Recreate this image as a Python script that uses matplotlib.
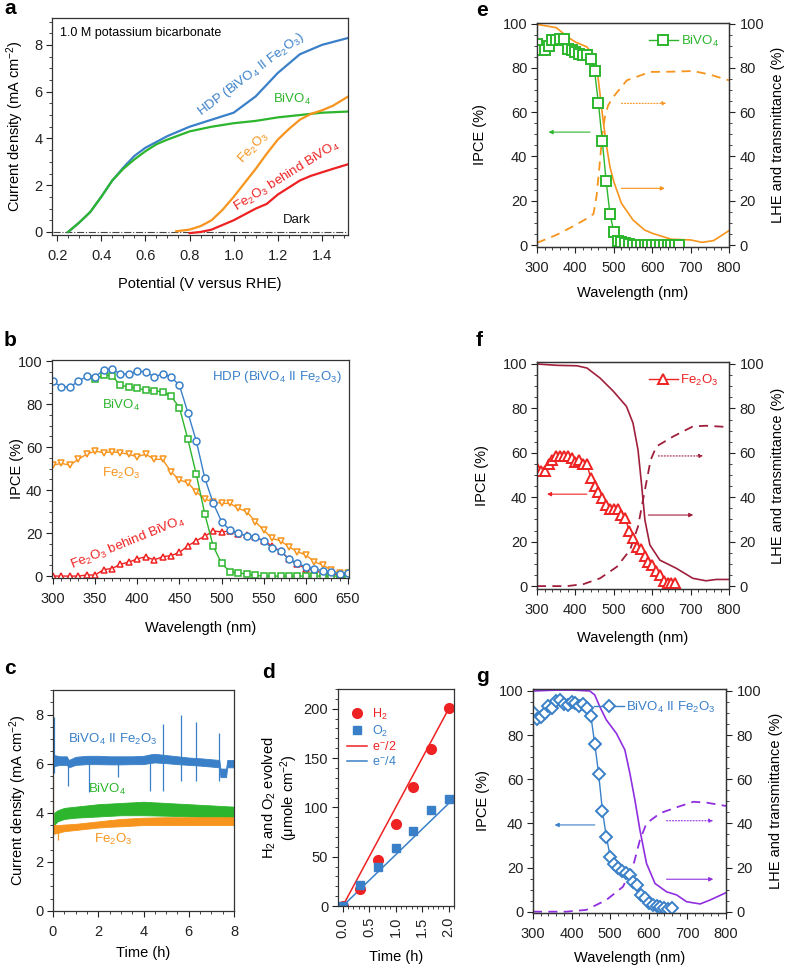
import matplotlib
matplotlib.use("Agg")
import matplotlib.pyplot as plt
from matplotlib.ticker import MultipleLocator

plt.rcParams['font.family'] = ['Liberation Sans', 'DejaVu Sans']
plt.rcParams['mathtext.default'] = 'regular'
plt.rcParams['axes.linewidth'] = 0.9

BLUE = '#3a80c8'
GREEN = '#2db52d'
ORANGE = '#f7941d'
RED = '#ee2222'
MAROON = '#a01f3c'
PURPLE = '#8f2fe0'

# ---------------- Panel a: J-V curves ----------------
a_v_bivo4 = [0.25, 0.30, 0.35, 0.40, 0.45, 0.50, 0.55, 0.60, 0.65, 0.70, 0.80, 0.90, 1.00, 1.10, 1.20, 1.30, 1.40, 1.52]
a_j_bivo4 = [0.0, 0.4, 0.85, 1.5, 2.2, 2.7, 3.1, 3.45, 3.75, 3.95, 4.3, 4.5, 4.65, 4.75, 4.9, 5.0, 5.1, 5.15]
a_v_hdp = [0.25, 0.30, 0.35, 0.40, 0.45, 0.50, 0.55, 0.60, 0.70, 0.80, 0.90, 1.00, 1.10, 1.20, 1.30, 1.40, 1.52]
a_j_hdp = [0.0, 0.4, 0.85, 1.5, 2.2, 2.75, 3.25, 3.6, 4.1, 4.5, 4.8, 5.1, 5.8, 6.8, 7.6, 8.0, 8.3]
a_v_fe = [0.74, 0.80, 0.85, 0.90, 0.95, 1.00, 1.05, 1.10, 1.15, 1.20, 1.25, 1.30, 1.35, 1.40, 1.45, 1.52]
a_j_fe = [0.03, 0.1, 0.25, 0.5, 0.95, 1.5, 2.1, 2.7, 3.35, 3.95, 4.4, 4.8, 5.05, 5.2, 5.4, 5.8]
a_v_feb = [0.80, 0.85, 0.90, 0.95, 1.00, 1.05, 1.10, 1.15, 1.20, 1.25, 1.30, 1.35, 1.40, 1.45, 1.52]
a_j_feb = [-0.05, 0.0, 0.1, 0.3, 0.5, 0.75, 1.0, 1.2, 1.6, 1.9, 2.2, 2.4, 2.55, 2.7, 2.9]
a_v_dark = [0.18, 1.52]
a_j_dark = [0.0, 0.0]

# ---------------- Panel b: IPCE ----------------
b_wl = list(range(300, 651, 10))
b_hdp = [90.5, 88, 88, 90.5, 93, 92.5, 96, 96.3, 94, 94, 95.3, 95, 92.7, 94, 92.7, 88.7, 76, 62.8, 45.7, 34,
         25.3, 21.4, 20, 18.6, 18, 16.4, 12.9, 11.8, 7.8, 5.9, 4.3, 3.3, 2.5, 2, 0.9, 1.2]
b_wl_bivo4 = list(range(350, 651, 10))
b_bivo4 = [91.6, 93.5, 93.2, 88.7, 88, 87.3, 86.5, 86.2, 85.7, 83.7, 78.4, 63.6, 47.3, 29.1, 14,
           5.9, 2, 1.5, 0.9, 0.3, 0, 0, 0, 0, 0, 0, 0, 0, 0, 0, 0]
b_fe = [51.6, 52.4, 51.6, 54.3, 56.7, 58.1, 57.4, 57.8, 57.4, 56.6, 55.5, 56.7, 54.3, 54.3, 48.5, 44.7, 43.4, 39.2, 35.7, 34.6,
        33.8, 33.8, 31.5, 29.9, 25.3, 21.4, 17.5, 16.4, 13.6, 11.3, 9.8, 6.7, 5.1, 2.8, 1.2, 1.5]
b_feb = [0, 0, 0, 0, 0.5, 0.5, 3, 3.5, 5.5, 6.5, 8, 9, 7.5, 9, 9.5, 11, 14, 16.5, 18.5, 21,
         20.5, 21, 19.5, 19, 18, 16.5, 14, 11.5, 8, 5.5, 3.5, 2.5, 1.5, 1, 0.5, 0.5]

# ---------------- Panel c: stability (noise band envelopes) ----------------
c_t_blue = [0.0, 0.05, 0.3, 0.6, 0.7, 1.0, 1.5, 2.0, 2.5, 3.0, 3.5, 4.0, 4.3, 4.5, 5.0, 5.5, 6.0, 6.5, 7.0, 7.35, 7.4, 7.65, 7.7, 8.0]
c_blue_lo = [6.3, 5.9, 5.95, 5.95, 5.85, 5.95, 5.98, 5.98, 5.97, 5.97, 5.98, 5.98, 6.03, 6.05, 6.02, 5.98, 5.95, 5.92, 5.88, 5.85, 5.45, 5.45, 5.85, 5.85]
c_blue_hi = [7.0, 6.35, 6.3, 6.3, 6.15, 6.28, 6.32, 6.32, 6.3, 6.3, 6.3, 6.32, 6.38, 6.4, 6.35, 6.3, 6.25, 6.22, 6.18, 6.15, 5.8, 5.8, 6.15, 6.15]
c_spike_t = [0.03, 0.68, 1.6, 2.88, 4.28, 4.88, 5.66, 6.31, 7.35]
c_spike_top = [7.9, 6.1, 6.1, 6.1, 6.2, 7.6, 8.0, 7.7, 7.25]
c_spike_bot = [5.6, 5.1, 4.85, 5.45, 4.9, 4.9, 5.3, 5.3, 5.3]
c_t_green = [0.05, 0.2, 0.5, 1.0, 2.0, 3.0, 4.0, 5.0, 6.0, 7.0, 8.0]
c_green_lo = [3.5, 3.65, 3.75, 3.8, 3.85, 3.9, 3.9, 3.88, 3.85, 3.82, 3.8]
c_green_hi = [4.0, 4.1, 4.2, 4.25, 4.35, 4.4, 4.45, 4.4, 4.35, 4.3, 4.25]
c_t_orange = [0.0, 0.05, 0.2, 0.5, 1.0, 1.5, 2.0, 2.5, 3.0, 4.0, 5.0, 6.0, 7.0, 8.0]
c_orange_lo = [3.15, 3.15, 3.18, 3.25, 3.3, 3.35, 3.4, 3.43, 3.45, 3.5, 3.5, 3.5, 3.5, 3.5]
c_orange_hi = [3.5, 3.5, 3.5, 3.52, 3.55, 3.6, 3.65, 3.7, 3.75, 3.8, 3.82, 3.82, 3.82, 3.82]
c_orange_spike_t = [0.01, 0.2]
c_orange_spike_top = [5.5, 3.4]
c_orange_spike_bot = [3.3, 2.9]

# ---------------- Panel d: gas evolution ----------------
d_t = [0.0, 0.33, 0.67, 1.0, 1.33, 1.67, 2.0]
d_h2 = [0, 17, 47, 83, 121, 159, 201]
d_o2 = [0, 21, 40, 59, 76, 97, 108]
d_line_t = [0.0, 2.0]
d_e2 = [0, 200]
d_e4 = [0, 104]

# ---------------- Panel e: BiVO4 ----------------
e_wl = list(range(300, 671, 10))
e_ipce = [91, 88, 88, 90, 92.5, 92.5, 93, 93, 88.5, 88, 87, 86.5, 86, 86, 84, 78.5, 64, 47, 29, 14,
          6, 1.8, 1.5, 0.8, 0.3, 0.2, 0.2, 0.2, 0.2, 0.2, 0.2, 0.2, 0.2, 0.2, 0.2, 0.2, 0.2, 0.2]
e_lhe_wl = [300, 350, 380, 400, 430, 450, 460, 470, 480, 490, 500, 520, 550, 580, 600, 650, 700, 730, 760, 800]
e_lhe = [99.7, 98.2, 94, 91.7, 89.5, 85, 74.4, 59.4, 45.9, 35.3, 28.6, 18.8, 11.3, 6.8, 5.3, 2.6, 2.3, 1.2, 2.0, 6.5]
e_tr_wl = [300, 350, 400, 430, 447, 455, 464, 470, 477, 485, 499, 534, 595, 650, 707, 750, 800]
e_tr = [1, 4.5, 9, 12, 14, 22, 38, 50, 58, 63, 67, 74.4, 78.2, 78.3, 78.6, 77, 74.4]

# ---------------- Panel f: Fe2O3 ----------------
f_wl = list(range(300, 661, 10))
f_ipce = [53, 52, 52, 55, 57, 58.5, 58.5, 58.5, 58.5, 57.5, 56, 57, 55, 55, 48.5, 45, 42.5, 39.5, 36.5, 34.5,
          34.5, 34.5, 32, 30.5, 25, 21.5, 17.5, 16.5, 13.5, 11, 9.5, 7, 5, 2.5, 1.5, 1.5, 1.5]
f_lhe_wl = [300, 352, 404, 430, 464, 499, 533, 550, 563, 572, 581, 594, 620, 663, 706, 740, 767, 800]
f_lhe = [100, 99.4, 99.2, 98.2, 93.7, 87.7, 80.9, 73.4, 61.4, 46.3, 29.8, 18.5, 11.7, 8, 3.5, 2.4, 3, 3]
f_tr_wl = [300, 378, 421, 464, 508, 542, 563, 581, 596, 611, 655, 706, 740, 800]
f_tr = [0, 0, 0.9, 3.5, 8.7, 16.2, 26.8, 43.3, 56.8, 62.9, 67.4, 71.9, 72.2, 71.6]

# ---------------- Panel g: BiVO4 || Fe2O3 ----------------
g_wl = list(range(300, 661, 10))
g_ipce = [90.5, 87.5, 88, 90, 93, 92.5, 95.5, 96, 94, 93.5, 95, 94.5, 93, 94, 92.5, 88.5, 76, 62.5, 45.5, 34,
          25, 21.5, 20, 18.5, 17.5, 16.5, 13.5, 12, 7.5, 6, 4, 3, 2.5, 2, 1.5, 1, 1.5]
g_lhe_wl = [300, 360, 404, 447, 460, 473, 490, 516, 538, 551, 564, 577, 594, 616, 646, 672, 698, 733, 759, 800]
g_lhe = [100, 100.4, 100.4, 100, 98.2, 92.9, 86.9, 80.8, 73.3, 62.7, 50.6, 37, 21.9, 12.8, 9, 7.6, 4.5, 3.5, 5.3, 8.6]
g_tr_wl = [300, 386, 438, 490, 533, 559, 577, 594, 629, 672, 716, 750, 800]
g_tr = [0, 0, 0.8, 5.3, 11.3, 20.4, 32.5, 40, 44.6, 47.3, 49.8, 49.4, 47.9]

W, H = 788, 968
fig = plt.figure(figsize=(W / 100, H / 100), dpi=100)


def make_ax(l, r, t, b):
    return fig.add_axes([l / W, 1 - b / H, (r - l) / W, (b - t) / H])


def style(ax, xmaj, xmin, ymaj, ymin, xpad=6, ypad=3):
    ax.xaxis.set_major_locator(MultipleLocator(xmaj))
    ax.xaxis.set_minor_locator(MultipleLocator(xmin))
    ax.yaxis.set_major_locator(MultipleLocator(ymaj))
    ax.yaxis.set_minor_locator(MultipleLocator(ymin))
    ax.tick_params(which='major', direction='out', length=4, width=0.8, labelsize=10.5, colors='#222222')
    ax.tick_params(which='minor', direction='out', length=2, width=0.6, colors='#222222')
    ax.tick_params(axis='x', pad=xpad)
    ax.tick_params(axis='y', pad=ypad)
    ax.tick_params(top=False, right=False, which='both')
    for s in ax.spines.values():
        s.set_color('#333333')


def place_labels(ax, l, r, t, b, xl_y, yl_x, xlabel, ylabel, **kw):
    w, h = r - l, b - t
    ax.set_xlabel(xlabel, fontsize=10.5, **kw)
    ax.set_ylabel(ylabel, fontsize=10.5, **kw)
    ax.xaxis.set_label_coords(0.5, (b - xl_y) / h)
    ax.yaxis.set_label_coords((yl_x - l) / w, 0.5)
    ax.xaxis.label.set_va('center')
    ax.yaxis.label.set_va('center')
    ax.yaxis.label.set_ha('center')


def letter(x, y, s):
    fig.text(x / W, 1 - y / H, s, fontsize=15, fontweight='bold', ha='left', va='center')


def arrow(ax, x0, x1, y, color, ls='-'):
    ax.annotate('', xy=(x1, y), xytext=(x0, y),
                arrowprops=dict(arrowstyle='-|>', color=color, lw=0.8, ls=ls,
                                mutation_scale=6, shrinkA=0, shrinkB=0))


# ---- a ----
A = (52, 348, 18, 235)
ax = make_ax(*A)
ax.plot(a_v_dark, a_j_dark, color='#444444', lw=0.8, ls='-.')
ax.plot(a_v_hdp, a_j_hdp, color=BLUE, lw=1.6)
ax.plot(a_v_bivo4, a_j_bivo4, color=GREEN, lw=1.6)
ax.plot(a_v_fe, a_j_fe, color=ORANGE, lw=1.6)
ax.plot(a_v_feb, a_j_feb, color=RED, lw=1.6)
ax.set_xlim(0.177, 1.518)
ax.set_ylim(-0.13, 9.15)
style(ax, 0.2, 0.05, 2, 0.5)
place_labels(ax, *A, 284, 15, 'Potential (V versus RHE)', 'Current density (mA cm$^{-2}$)')
ax.text(0.215, 8.5, '1.0 M potassium bicarbonate', fontsize=9, va='center')
ax.text(1.08, 6.75, 'HDP (BiVO$_4$ II Fe$_2$O$_3$)', color=BLUE, fontsize=9.5, rotation=37, ha='center', va='center')
ax.text(1.264, 5.65, 'BiVO$_4$', color=GREEN, fontsize=9.5, ha='center', va='center')
ax.text(1.09, 3.6, 'Fe$_2$O$_3$', color=ORANGE, fontsize=9.5, rotation=47, ha='center', va='center')
ax.text(1.24, 2.4, 'Fe$_2$O$_3$ behind BiVO$_4$', color=RED, fontsize=9.5, rotation=32, ha='center', va='center')
ax.text(1.287, 0.53, 'Dark', color='#111111', fontsize=9.5, ha='center', va='center')
letter(4, 9, 'a')

# ---- b ----
B = (52, 349, 360, 578)
ax = make_ax(*B)
mk = dict(markersize=5, markerfacecolor='white', markeredgewidth=1.1, lw=1.0)
ax.plot(b_wl, b_fe, marker='v', color=ORANGE, **mk)
ax.plot(b_wl, b_feb, marker='^', color=RED, **mk)
ax.plot(b_wl_bivo4, b_bivo4, marker='s', color=GREEN, **mk)
ax.plot(b_wl, b_hdp, marker='o', color=BLUE, **mk)
ax.set_xlim(298.8, 651.2)
ax.set_ylim(-0.9, 100.5)
style(ax, 50, 10, 20, 5)
place_labels(ax, *B, 628, 17, 'Wavelength (nm)', 'IPCE (%)')
ax.text(566, 92.5, 'HDP (BiVO$_4$ II Fe$_2$O$_3$)', color=BLUE, fontsize=9.5, ha='center', va='center')
ax.text(381, 79.5, 'BiVO$_4$', color=GREEN, fontsize=9.5, ha='center', va='center')
ax.text(381, 47.5, 'Fe$_2$O$_3$', color=ORANGE, fontsize=9.5, ha='center', va='center')
ax.text(389, 15.5, 'Fe$_2$O$_3$ behind BiVO$_4$', color=RED, fontsize=9.5, rotation=22, ha='center', va='center')
letter(4, 341, 'b')

# ---- c ----
C = (53, 234, 690, 911)
ax = make_ax(*C)
ax.fill_between(c_t_green, c_green_lo, c_green_hi, color=GREEN, lw=0.6)
ax.fill_between(c_t_orange, c_orange_lo, c_orange_hi, color=ORANGE, lw=0.6)
ax.vlines(c_orange_spike_t, c_orange_spike_bot, c_orange_spike_top, color=ORANGE, lw=0.9)
ax.fill_between(c_t_blue, c_blue_lo, c_blue_hi, color=BLUE, lw=0.6)
ax.vlines(c_spike_t, c_spike_bot, c_spike_top, color=BLUE, lw=0.9)
ax.set_xlim(0, 8)
ax.set_ylim(0, 9.0)
style(ax, 2, 0.5, 2, 0.5)
place_labels(ax, *C, 953, 18, 'Time (h)', 'Current density (mA cm$^{-2}$)')
ax.text(2.65, 7.0, 'BiVO$_4$ II Fe$_2$O$_3$', color=BLUE, fontsize=9.5, ha='center', va='center')
ax.text(2.37, 4.93, 'BiVO$_4$', color=GREEN, fontsize=9.5, ha='center', va='center')
ax.text(2.65, 2.9, 'Fe$_2$O$_3$', color=ORANGE, fontsize=9.5, ha='center', va='center')
letter(4, 668, 'c')

# ---- d ----
D = (338, 454, 689, 906)
ax = make_ax(*D)
ax.plot(d_line_t, d_e2, color=RED, lw=1.1, label='e$^{-}$/2')
ax.plot(d_line_t, d_e4, color=BLUE, lw=1.1, label='e$^{-}$/4')
ax.plot(d_t, d_h2, 'o', color=RED, markersize=7, label='H$_2$')
ax.plot(d_t, d_o2, 's', color=BLUE, markersize=6, label='O$_2$')
ax.set_xlim(-0.09, 2.1)
ax.set_ylim(0, 220)
style(ax, 0.5, 0.1, 50, 10)
ax.tick_params(axis='x', labelrotation=90, pad=4)
ax.set_xticks([0.0, 0.5, 1.0, 1.5, 2.0])
ax.set_xticklabels(['0.0', '0.5', '1.0', '1.5', '2.0'])
place_labels(ax, *D, 957, 280, 'Time (h)', 'H$_2$ and O$_2$ evolved\n(μmole cm$^{-2}$)', linespacing=1.0)
hs, ls_ = ax.get_legend_handles_labels()
order = [2, 3, 0, 1]
ax.legend([hs[i] for i in order], [ls_[i] for i in order], loc='upper left', frameon=False, fontsize=9,
          handlelength=1.6, handletextpad=0.4, labelspacing=0.15, borderaxespad=0.3,
          labelcolor='linecolor', bbox_to_anchor=(0.0, 0.96))
letter(262, 672, 'd')


def lhe_panel(box, xl_y, yl_x, yr_x, wl, ipce, marker, mcol, msize, lcol, lwl, lhe, twl, tr, label, lt):
    l, r, t, b = box
    ax = make_ax(l, r, t, b)
    ax.plot(twl, tr, color=lcol, lw=1.3, ls=(0, (5, 3.5)), zorder=2)
    ax.plot(lwl, lhe, color=lcol, lw=1.2, zorder=2)
    ax.plot(wl, ipce, marker=marker, color=mcol, markersize=msize, markerfacecolor='white',
            markeredgewidth=1.4, lw=1.0, zorder=3, label=label)
    ax.set_xlim(300, 800)
    ax.set_ylim(lt[0], lt[1])
    style(ax, 100, 20, 20, 5)
    ax2 = ax.twinx()
    ax2.set_ylim(lt[0], lt[1])
    ax2.yaxis.set_major_locator(MultipleLocator(20))
    ax2.yaxis.set_minor_locator(MultipleLocator(5))
    ax2.tick_params(which='major', direction='out', length=4, width=0.8, labelsize=10.5, colors='#222222')
    ax2.tick_params(which='minor', direction='out', length=2, width=0.6, colors='#222222')
    for s in ax2.spines.values():
        s.set_color('#333333')
    ax2.set_ylabel('LHE and transmittance (%)', fontsize=10.5)
    ax2.yaxis.set_label_coords((yr_x - l) / (r - l), 0.5)
    ax2.yaxis.label.set_va('center')
    ax2.yaxis.label.set_ha('center')
    place_labels(ax, l, r, t, b, xl_y, yl_x, 'Wavelength (nm)', 'IPCE (%)')
    ax.legend(loc='upper right', frameon=False, fontsize=9.5, handlelength=2.2, handletextpad=0.2,
              labelcolor='linecolor', borderaxespad=0.4)
    return ax


# ---- e ----
ax = lhe_panel((537, 729, 23, 247), 293, 480, 778, e_wl, e_ipce, 's', GREEN, 6.5, ORANGE,
               e_lhe_wl, e_lhe, e_tr_wl, e_tr, 'BiVO$_4$', (-0.9, 100.3))
arrow(ax, 438, 330, 51, GREEN)
arrow(ax, 520, 637, 64, ORANGE, ':')
arrow(ax, 520, 633, 25.6, ORANGE)
letter(476, 10, 'e')

# ---- f ----
ax = lhe_panel((537, 729, 362, 589), 638, 482, 778, f_wl, f_ipce, '^', RED, 7.5, MAROON,
               f_lhe_wl, f_lhe, f_tr_wl, f_tr, 'Fe$_2$O$_3$', (-1.3, 100.9))
arrow(ax, 430, 326, 41.4, RED)
arrow(ax, 616, 733, 58.6, MAROON, ':')
arrow(ax, 590, 707, 32, MAROON)
letter(476, 340, 'f')

# ---- g ----
ax = lhe_panel((533, 726, 689, 913), 958, 483, 776, g_wl, g_ipce, 'D', BLUE, 6, PURPLE,
               g_lhe_wl, g_lhe, g_tr_wl, g_tr, 'BiVO$_4$ II Fe$_2$O$_3$', (-0.6, 100.9))
arrow(ax, 460, 356, 39.3, BLUE)
arrow(ax, 646, 767, 41.2, PURPLE, ':')
arrow(ax, 646, 767, 14.7, PURPLE)
letter(476, 677, 'g')

fig.savefig('out.png', dpi=100)
